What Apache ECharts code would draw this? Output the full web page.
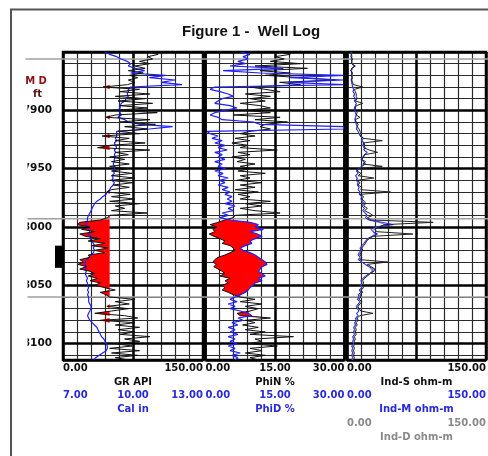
<!DOCTYPE html>
<html><head><meta charset="utf-8">
<script src="https://cdn.jsdelivr.net/npm/echarts@6/dist/echarts.min.js"></script>
<style>html,body{margin:0;padding:0;background:#fff}#c{width:488px;height:456px}</style>
</head><body><div id="c"></div>
<script>
// ---- depth sampling (categories) ----
const DEPTH_MIN = 7850, DEPTH_MAX = 8114, DEPTH_STEP = 2;
const depths = [];
for (let d = DEPTH_MIN; d <= DEPTH_MAX; d += DEPTH_STEP) depths.push(d);

// ---- Track 1 ----
const gr = [93,102,91,96,82, 93,77,88,70,86, 71,80,70,77,69, 43,82,61,93,56, 88,59,96,61,91,
  54,101,56,46,93, 61,99,66,91,59, 82,42,71,56,88, 50,37,93,56,70, 50,66,52,71,50,
  70,52,74,52,77, 50,75,54,71,52, 47,72,52,77,50, 82,56,66,52,90, 50,48,40,18,15,
  29,20,34,18,24, 40,27,45,31,48, 34,45,27,29,18, 22,16,25,18,29, 34,27,37,29,40,
  34,45,56,40,46, 50,77,56,71,47, 70,52,34,66,80, 40,77,56,82,59, 77,61,93,66,82,
  56,74,50,82,52, 80,56,71];
const cal = [8.8,9.0,9.3,9.5,9.75, 9.9,9.8,10.1,10.5,9.9, 11.4,10.7,11.8,11.2,12.1, 9.9,9.8,9.8,9.75,9.8,
  9.7,9.65,9.5,9.45,9.45, 9.35,9.45,9.5,9.35,9.65, 9.8,10.3,11.7,10.7,9.3, 9.3,9.3,9.25,9.3,9.2,
  9.25,9.3,9.2,9.25,9.2, 9.25,9.2,9.2,9.15,9.2, 9.2,9.15,9.2,9.1,9.15, 9.1,9.2,9.15,9.05,9.0,
  8.9,8.85,8.7,8.6,8.45, 8.35,8.3,8.25,8.2,8.15, 8.1,8.05,8.05,8.0,8.0, 8.05,8.1,8.15,8.1,8.2,
  8.15,8.25,8.3,8.35,8.3, 8.35,8.3,8.2,8.1,8.0, 7.95,7.95,8.0,7.95,8.0, 7.95,8.0,8.05,8.0,8.05,
  8.05,8.1,8.05,8.1,8.05, 8.1,8.1,8.1,8.15,8.2, 8.2,8.15,8.1,8.05,8.1, 8.15,8.25,8.35,8.45,8.5,
  8.55,8.6,8.65,8.75,8.8, 8.85,8.9,8.9,8.85,8.7, 8.55,8.4,8.3];
const GR_CUTOFF = 50;

// ---- Track 2 ----
const phiN = [16,18.3,15,17,14, 20.5,10.7,22,11.8,18.3, 12.9,20.5,28,16,20.5, 9.6,12.9,16.1,8.6,14,
  9.6,12.9,7.5,11.8,14, 8.6,14,6,16.1,10.7, 17.7,12.9,11.8,14,9.6, 7.5,10.7,6.4,9.6,5.7,
  9.2,7.5,15.5,7,9.6, 5.7,8.6,6.8,10.7,7.5, 10,7,12.9,7.5,9.6, 6.8,12.2,7.5,10.7,6.4,
  11.4,7,9.6,7.5,14, 8.6,12.2,7.5,10.7,16.1, 6.4,6,4.2,2.7,1, 2.5,1.6,2,0.8,1.8,
  3.1,4.2,3.6,5.3,6, 6.4,5.3,4.2,2.7,2, 1.6,2.3,1.8,2.7,3.6, 4.2,3.1,5.3,4.2,4.9,
  3.6,4.2,3.6,4.9,6, 7.5,10.7,7.5,12.2,8.6, 11.4,9.6,6.8,7.5,14, 8.6,10.7,8,11.4,8.6,
  12.9,9.6,19,10.7,12.2, 9.2,15.5,9.6,12.2,8.6, 12.9,9.6,11.4];
const phiD = [7.5,9.6,8.1,9.2,7, 8.6,5.3,16.8,3.8,11.8, 29.8,18.3,29.8,17.9,29.8, 2,1,3.1,4.9,6,
  3.6,2.7,2,5.3,6.8, 4.2,2,1,2.7,3.6, 10.3,11.8,29.8,29.8,0.3, 1,2.7,1.4,3.6,2,
  4.2,2.7,4.7,2,3.6, 2.7,4.2,2,3.6,2.7, 4.4,2,3.8,2.7,4.9, 3.1,4.2,2.7,4.9,3.6,
  5.3,4.2,5.7,4.7,5.7, 4.2,6.4,4.9,6,3.6, 4.9,3.1,5.3,9.6,11.4, 10.7,12.5,9.6,11.2,12.2,
  10.7,9.6,10,8.6,7.5, 8.1,9.6,10.7,11.4,12.2, 12.9,13.3,12.2,11.8,11.4, 12.2,12.9,11.4,12.2,10.7,
  10.3,9.6,9.2,8.6,7.5, 6.4,5.3,6.8,4.9,6.4, 5.3,7.5,9.2,10,7, 8.1,5.7,7,4.9,6.4,
  5.3,7,4.9,6.4,5.3, 6.8,4.9,6.4,5.3,7.5, 5.7,7,6.4];
const crossoverZones = [[7992, 8060], [8070, 8080]];

// ---- Track 3 ----
const indS = [4,5,4,6,5, 5,9,5,4,6, 5,6,5,6,7, 17,8,9,10,10, 11,9,17,10,9, 9,11,10,14,9,
  10,12,11,13,14, 16,14,18,38,17, 20,18,24,33,19, 18,16,20,17,38, 13,11,15,12,29,
  11,14,12,16,15, 47,14,18,16,19, 20,18,22,19,24, 28,22,26,93,40, 35,30,32,71,28,
  24,21,20,18,16, 17,15,14,16,14, 44,22,26,30,29, 25,22,19,17,18, 16,18,15,17,14,
  15,13,16,14,12, 13,15,28,14,11, 12,10,11,9,10, 9,10,8,9,8, 9,7,8,7,8, 7,8,7];
const indM = [4,4.5,5,4.5,5, 5,8,5.5,4.5,5, 4.5,5,4.5,5,5.5, 6,7,6.5,8,7, 9,8,10,9,8,
  8,9,10,9,8.5, 9,10,11,10,12, 13,15,18,16,19, 17,20,18,22,19, 17,15,18,20,16,
  12,10,12,9,11, 10,12,11,13,12, 14,13,16,15,17, 18,16,19,17,20, 22,20,24,38,50,
  30,26,28,33,27, 22,20,18,16,14, 15,13,12,14,12, 16,20,24,28,28, 24,20,17,15,16,
  14,16,13,15,12, 13,11,14,12,10, 11,13,10,12,9, 10,8,9,7,8, 7,8,6,7,6, 7,5,6,5,6, 5,6,5];
const indD = [5,5,5.5,5,5.5, 5.5,7,6,5,5.5, 5,5.5,5,5.5,6, 6.5,7.5,7,8.5,7.5, 9.5,8.5,10,9.5,8.5,
  8.5,9.5,10,9.5,9, 9.5,10.5,11,10.5,12, 13,14,17,16,18, 17,19,18,21,19, 17,16,18,19,16,
  13,11,12,10,11, 11,12,11.5,13,12.5, 14,13.5,16,15,16.5, 17.5,16.5,18.5,17,19, 21,20,23,34,42,
  32,28,28,30,27, 23,21,19,17,15, 15,14,13,14,13, 16,19,23,26,27, 24,21,18,16,16,
  15,16,14,15,13, 13,12,14,12.5,11, 11.5,13,11,12,10, 10,9,9.5,8,8.5, 8,8.5,7,7.5,7,
  7,6,6.5,6,6.5, 6,6.5,6];

// ---- markers / labels ----
const depthLabels = [7900, 7950, 8000, 8050, 8100];
const formationTops = [7856, 7993, 8060];
const perforations = [[8016, 8035]];
const calLabels = [7, 10, 13];

// ---- derived fills ----
function sparse(a) { return a.map((v, i) => (v > 0 || (a[i-1] || 0) > 0 || (a[i+1] || 0) > 0) ? v : '-'); }
const grBase = gr.map(v => Math.min(v, GR_CUTOFF));
const grFill = sparse(gr.map(v => Math.max(GR_CUTOFF - v, 0)));
const inZone = d => crossoverZones.some(z => d >= z[0] && d <= z[1]);
const phiFill = sparse(phiD.map((v, i) => inZone(depths[i]) ? Math.max(v - phiN[i], 0) : 0));

// ---- styling ----
const TOP = 52, H = 308;
const tracks = [{left: 63, width: 140}, {left: 205.5, width: 139}, {left: 347, width: 139}];
const BLACK = '#111', BLUE = '#1f1fff', BLUE_T = '#2a2ad8', GREY = '#8a8a8a', GREY_T = '#8a8a8a', RED = '#ff0000';
const lblFont = {fontFamily: 'DejaVu Sans', fontWeight: 'bold', fontSize: 10};
const minorLine = {color: '#2a2a2a', width: 1.2};
const majorLine = {color: '#000', width: 2.5};

const grid = tracks.map(t => ({left: t.left, top: TOP, width: t.width, height: H, show: true,
  borderColor: '#000', borderWidth: 2.5, backgroundColor: 'transparent', containLabel: false, outerBoundsMode: 'none'}));
grid.push({left: 55, top: TOP, width: 8, height: H, show: false, containLabel: false, outerBoundsMode: 'none'});
grid.push({left: 25.5, top: TOP, width: 462.5, height: H, show: false, containLabel: false, outerBoundsMode: 'none'});

function gridX(gi, interval, style, z) {
  return {gridIndex: gi, type: 'value', min: 0, max: 10, interval, position: 'bottom', z,
    axisLine: {show: false}, axisTick: {show: false}, axisLabel: {show: false},
    splitLine: {show: true, lineStyle: style}};
}
function scaleX(gi, min, max, interval, offset, name, color, labelFilter) {
  return {gridIndex: gi, type: 'value', min, max, interval, position: 'bottom', offset,
    axisLine: {show: false}, axisTick: {show: false}, splitLine: {show: false},
    axisLabel: Object.assign({show: true, margin: 3, color, showMinLabel: true, showMaxLabel: true,
      alignMinLabel: 'left', alignMaxLabel: 'right',
      formatter: v => (labelFilter && !labelFilter.includes(v)) ? '' : v.toFixed(2)}, lblFont),
    name, nameLocation: 'middle', nameGap: 15, nameTextStyle: Object.assign({color}, lblFont)};
}
const xAxis = [
  gridX(0, 1, minorLine, 0), gridX(0, 5, majorLine, 1),
  scaleX(0, 0, 150, 150, 0, 'GR API', BLACK),
  scaleX(0, 7, 13, 1, 27, 'Cal in', BLUE_T, calLabels),
  gridX(1, 1, minorLine, 0), gridX(1, 5, majorLine, 1),
  scaleX(1, 0, 30, 15, 0, 'PhiN %', BLACK),
  scaleX(1, 0, 30, 15, 27, 'PhiD %', BLUE_T),
  gridX(2, 1, minorLine, 0), gridX(2, 5, majorLine, 1),
  scaleX(2, 0, 150, 150, 0, 'Ind-S ohm-m', BLACK),
  scaleX(2, 0, 150, 150, 27, 'Ind-M ohm-m', BLUE_T),
  scaleX(2, 0, 150, 150, 55, 'Ind-D ohm-m', GREY_T),
  {gridIndex: 3, type: 'value', min: 0, max: 1, show: false},
  {gridIndex: 4, type: 'value', min: 0, max: 1, show: false}
];
function catY(gi) { return {gridIndex: gi, type: 'category', data: depths, inverse: true, boundaryGap: false, show: false}; }
function depthY(gi, interval, style, z, labels) {
  return {gridIndex: gi, type: 'value', min: DEPTH_MIN, max: DEPTH_MAX, interval, inverse: true, position: 'left', z,
    axisLine: {show: false}, axisTick: {show: false},
    axisLabel: labels ? {show: true, margin: 11, color: '#111', fontFamily: 'DejaVu Sans', fontWeight: 'bold', fontSize: 10.5,
      formatter: v => depthLabels.includes(v) ? String(v) : ''} : {show: false},
    splitLine: {show: true, lineStyle: style}};
}
const yAxis = [
  catY(0), depthY(0, 10, minorLine, 0, false), depthY(0, 50, majorLine, 1, true),
  catY(1), depthY(1, 10, minorLine, 0, false), depthY(1, 50, majorLine, 1, false),
  catY(2), depthY(2, 10, minorLine, 0, false), depthY(2, 50, majorLine, 1, false),
  {gridIndex: 3, type: 'value', min: DEPTH_MIN, max: DEPTH_MAX, inverse: true, show: false},
  {gridIndex: 4, type: 'value', min: DEPTH_MIN, max: DEPTH_MAX, inverse: true, show: false}
];

function curve(name, xi, yi, data, color, width, z) {
  return {type: 'line', name, xAxisIndex: xi, yAxisIndex: yi, data, symbol: 'none', silent: true,
    emphasis: {disabled: true}, lineStyle: {color, width}, z};
}
function stackBase(name, xi, yi, data, stack) {
  return {type: 'line', name, xAxisIndex: xi, yAxisIndex: yi, data, stack, symbol: 'none', silent: true,
    emphasis: {disabled: true}, lineStyle: {width: 0, opacity: 0}, z: 2};
}
function stackFill(name, xi, yi, data, stack) {
  return {type: 'line', name, xAxisIndex: xi, yAxisIndex: yi, data, stack, symbol: 'none', silent: true,
    emphasis: {disabled: true}, lineStyle: {width: 0, opacity: 0}, areaStyle: {color: RED, opacity: 1}, z: 2};
}

const series = [
  stackBase('grBase', 2, 0, grBase, 'gr'),
  stackFill('grFill', 2, 0, grFill, 'gr'),
  curve('Cal', 3, 0, cal, BLUE, 1.2, 3),
  curve('GR', 2, 0, gr, BLACK, 1, 4),
  stackBase('phiBase', 6, 3, phiN, 'phi'),
  stackFill('phiFill', 6, 3, phiFill, 'phi'),
  curve('PhiN', 6, 3, phiN, BLACK, 1, 3),
  curve('PhiD', 7, 3, phiD, BLUE, 1.2, 4),
  curve('IndD', 12, 6, indD, GREY, 1, 3),
  curve('IndM', 11, 6, indM, BLUE, 1, 4),
  curve('IndS', 10, 6, indS, '#222', 1, 5),
  {type: 'custom', name: 'perf', xAxisIndex: 13, yAxisIndex: 9, data: perforations, encode: {y: [0, 1]}, silent: true, z: 5,
    renderItem: (p, api) => {
      const a = api.coord([0, api.value(0)]), b = api.coord([1, api.value(1)]);
      return {type: 'rect', shape: {x: a[0], y: a[1], width: b[0] - a[0], height: b[1] - a[1]}, style: {fill: '#000'}};
    }},
  {type: 'custom', name: 'tops', xAxisIndex: 14, yAxisIndex: 10, data: formationTops.map(d => [d]), encode: {y: 0}, silent: true, z: 2,
    renderItem: (p, api) => {
      const y = api.coord([0, api.value(0)])[1];
      const x0 = p.coordSys.x, x1 = p.coordSys.x + p.coordSys.width;
      return {type: 'line', shape: {x1: x0, y1: y, x2: x1, y2: y}, style: {stroke: '#a0a0a0', lineWidth: 1.5}};
    }}
];

const option = {
  animation: false,
  backgroundColor: '#fff',
  title: {text: 'Figure 1 -  Well Log', left: 182, top: 24, padding: 0,
    textStyle: {fontFamily: 'Liberation Sans', fontWeight: 'bold', fontSize: 15, color: '#111'}},
  grid, xAxis, yAxis, series,
  graphic: [
    {type: 'line', z: 100, shape: {x1: 11, y1: 9, x2: 11, y2: 456}, style: {stroke: '#555', lineWidth: 2}},
    {type: 'line', z: 100, shape: {x1: 10, y1: 9.5, x2: 488, y2: 9.5}, style: {stroke: '#555', lineWidth: 2}},
    {type: 'rect', z: 100, shape: {x: 12.5, y: 100, width: 15, height: 258}, style: {fill: '#fff'}},
    {type: 'text', z: 100, x: 36, y: 81, style: {text: 'M D', fill: '#8b1010', font: 'bold 10px "DejaVu Sans"',
      align: 'center', verticalAlign: 'middle', textAlign: 'center', textVerticalAlign: 'middle'}},
    {type: 'text', z: 100, x: 37.5, y: 94, style: {text: 'ft', fill: '#5a1010', font: 'bold 10px "DejaVu Sans"',
      align: 'center', verticalAlign: 'middle', textAlign: 'center', textVerticalAlign: 'middle'}}
  ]
};
const chart = echarts.init(document.getElementById('c'), null, {renderer: 'canvas'});
chart.setOption(option);
</script></body></html>
